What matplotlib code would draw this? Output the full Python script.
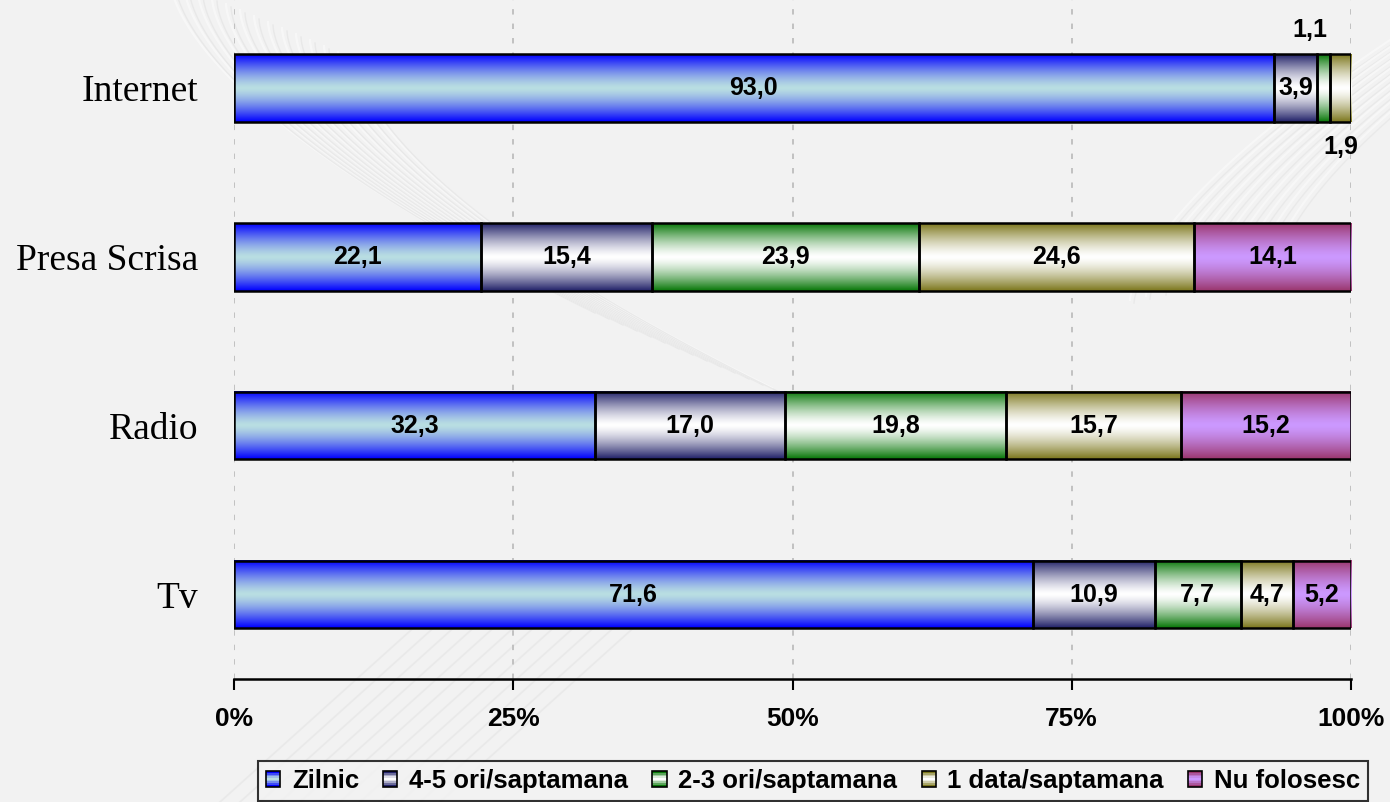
import numpy as np
import matplotlib.pyplot as plt
from matplotlib.patches import Rectangle
from matplotlib.legend_handler import HandlerBase

media = ['Tv', 'Radio', 'Presa Scrisa', 'Internet']
series = ['Zilnic', '4-5 ori/saptamana', '2-3 ori/saptamana',
          '1 data/saptamana', 'Nu folosesc']
zilnic = [71.6, 32.3, 22.1, 93.0]
ori_45 = [10.9, 17.0, 15.4, 3.9]
ori_23 = [7.7, 19.8, 23.9, 1.1]
data_1 = [4.7, 15.7, 24.6, 1.9]
nu_folosesc = [5.2, 15.2, 14.1, 0.0]

# edge colour / centre colour of each gradient fill
edge_cols = [(0, 0, 255), (35, 35, 105), (10, 120, 10), (125, 120, 30), (155, 55, 110)]
mid_cols = [(185, 222, 226), (255, 255, 255), (255, 255, 255), (255, 255, 255), (204, 153, 255)]


def gradient(edge, mid, n=64):
    t = np.abs(np.linspace(-1, 1, n)) ** 1.4
    e = np.array(edge) / 255.0
    m = np.array(mid) / 255.0
    g = m[None, :] + (e - m)[None, :] * t[:, None]
    return g[:, None, :]


class GradientHandler(HandlerBase):
    def legend_artist(self, legend, orig_handle, fontsize, handlebox):
        y0 = handlebox.ydescent
        w, h = handlebox.width, handlebox.height
        edge, mid = orig_handle
        g = gradient(edge, mid, 9)[:, 0, :]
        n = len(g)
        for i, c in enumerate(g):
            handlebox.add_artist(Rectangle((0, -y0 + h * i / n), w, h / n + 0.3,
                                           facecolor=c, edgecolor='none',
                                           transform=handlebox.get_transform()))
        box = Rectangle((0, -y0), w, h, facecolor='none', edgecolor='black', lw=1.2,
                        transform=handlebox.get_transform())
        handlebox.add_artist(box)
        return box


fig = plt.figure(figsize=(13.9, 8.02), dpi=100)
fig.patch.set_facecolor('#f2f2f2')

# faint decorative swirls behind the chart
bg = fig.add_axes([0, 0, 1, 1], zorder=-5)
bg.set_xlim(0, 1390)
bg.set_ylim(802, 0)
bg.axis('off')
s = np.linspace(0, 1, 200)
for k in range(14):
    x = 170 + k * 14 + 420 * s ** 1.6
    y = -20 + 330 * s + k * 6
    bg.plot(x, y, color='#fafafa', lw=1.6, alpha=0.7)
    bg.plot(x + 5, y + 3, color='#e4e4e4', lw=1.0, alpha=0.7)
for k in range(10):
    x = 1130 + k * 16 + 260 * (1 - s) ** 1.5
    y = 40 + 260 * s - k * 4
    bg.plot(x, y, color='#fafafa', lw=1.5, alpha=0.7)
    bg.plot(x + 4, y + 3, color='#e4e4e4', lw=1.0, alpha=0.6)
for k in range(12):
    x = 220 + k * 20 + 200 * s
    y = 802 - 180 * s
    bg.plot(x, y, color='#e6e6e6', lw=1.3, alpha=0.7)

ax = fig.add_axes([234 / 1390, 1 - 679 / 802, (1351 - 234) / 1390, 679 / 802])
ax.set_facecolor('none')

vals = np.array([zilnic, ori_45, ori_23, data_1, nu_folosesc])
pct = vals / vals.sum(axis=0) * 100
ypos = np.arange(len(media))
h = 0.4
lbl = dict(fontsize=18, fontweight='bold', family='Liberation Sans')
left = np.zeros(len(media))
for i, name in enumerate(series):
    bars = ax.barh(ypos, pct[i], height=h, left=left, facecolor='none',
                   edgecolor='black', lw=1.8, zorder=3, label=name)
    g = gradient(edge_cols[i], mid_cols[i])
    for j, b in enumerate(bars):
        if pct[i][j] <= 0:
            continue
        ax.imshow(g, extent=[b.get_x(), b.get_x() + b.get_width(),
                             b.get_y(), b.get_y() + b.get_height()],
                  aspect='auto', zorder=2, interpolation='bilinear')
        cx = b.get_x() + b.get_width() / 2
        txt = f'{vals[i][j]:.1f}'.replace('.', ',')
        if vals[i][j] >= 3:
            ax.text(cx, ypos[j], txt, ha='center', va='center', zorder=4, **lbl)
        elif i == 2:
            ax.annotate(txt, (cx, ypos[j] + h / 2), xytext=(-10, 17),
                        textcoords='offset points', ha='center', va='center', **lbl)
        else:
            ax.annotate(txt, (cx, ypos[j] - h / 2), xytext=(0, -18),
                        textcoords='offset points', ha='center', va='center', **lbl)
    left += pct[i]

ax.set_xlim(0, 100)
ax.set_ylim(-0.5, 3.52)
ax.set_xticks([0, 25, 50, 75, 100])
ax.set_xticklabels(['0%', '25%', '50%', '75%', '100%'], fontsize=19,
                   fontweight='bold', family='Liberation Sans')
ax.set_yticks(ypos)
ax.set_yticklabels(media, fontsize=27, family='Liberation Serif')
ax.tick_params(axis='y', length=0, pad=26)
ax.tick_params(axis='x', length=8, width=1.5, pad=12)
ax.xaxis.grid(True, linestyle=(0, (3, 5)), color='#bdbdbd', lw=1.3, zorder=0)
ax.set_axisbelow(True)
for sp in ['left', 'right', 'top']:
    ax.spines[sp].set_visible(False)
ax.spines['bottom'].set_linewidth(1.8)

handles = [(edge_cols[i], mid_cols[i]) for i in range(len(series))]
leg = fig.legend(handles, series, handler_map={tuple: GradientHandler()},
                 loc='center', bbox_to_anchor=(813 / 1390, 1 - 781 / 802), ncol=5,
                 frameon=True, fancybox=False, edgecolor='black', facecolor='#f2f2f2',
                 handlelength=0.55, handleheight=0.55, handletextpad=0.45, columnspacing=0.95,
                 borderpad=0.3, borderaxespad=0,
                 prop={'family': 'Liberation Sans', 'weight': 'bold', 'size': 18.5})
leg.get_frame().set_linewidth(1.5)

fig.savefig('out.png', dpi=100, facecolor=fig.get_facecolor())
